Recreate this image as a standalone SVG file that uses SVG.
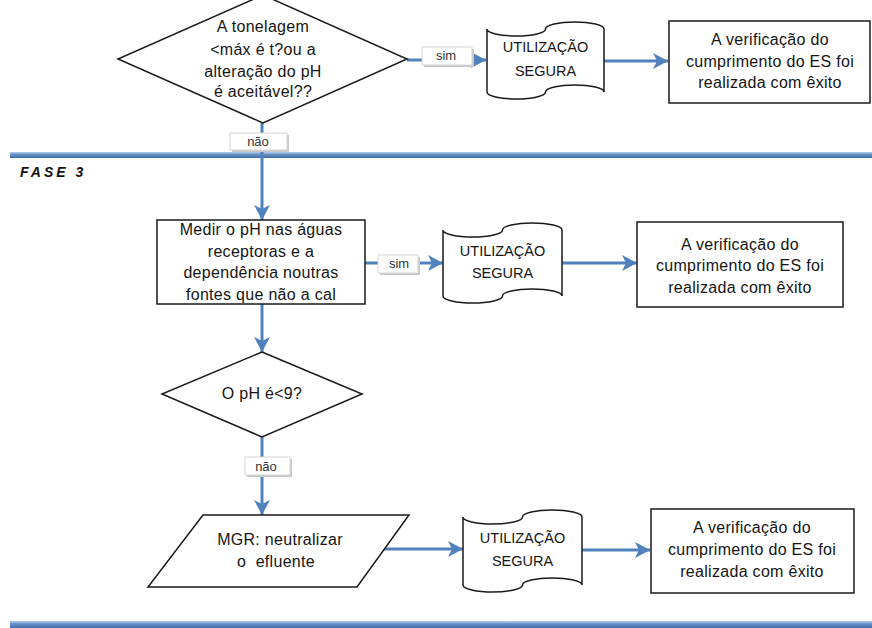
<svg xmlns="http://www.w3.org/2000/svg" width="872" height="628" viewBox="0 0 872 628">
  <defs>
    <linearGradient id="band" x1="0" y1="0" x2="0" y2="1">
      <stop offset="0" stop-color="#b9d0ec"/>
      <stop offset="0.35" stop-color="#6f97cc"/>
      <stop offset="1" stop-color="#3f6aa6"/>
    </linearGradient>
    <marker id="arrow" markerUnits="userSpaceOnUse" markerWidth="16" markerHeight="16" refX="15" refY="8" orient="auto">
      <path d="M0,0 L15,8 L0,16 L4,8 Z" fill="#4f81bd"/>
    </marker>
    <style>
      .shape { fill: #ffffff; stroke: #1a1a1a; stroke-width: 1.5; }
      .txt { font-family: "Liberation Sans", Arial, sans-serif; font-size: 16px; letter-spacing: 0.3px; fill: #151515; text-anchor: middle; }
      .cap { font-family: "Liberation Sans", Arial, sans-serif; font-size: 14.5px; fill: #151515; text-anchor: middle; }
      .lbl { font-family: "Liberation Sans", Arial, sans-serif; font-size: 13px; fill: #333; text-anchor: middle; }
      .lblbox { fill: #ffffff; stroke: #d6d6d6; stroke-width: 1; }
      .lblshadow { fill: #c8c8c8; }
      .conn { fill: none; stroke: #4f81bd; stroke-width: 3; }
      .phase { font-family: "Liberation Sans", Arial, sans-serif; font-size: 14px; font-weight: bold; font-style: italic; fill: #111; letter-spacing: 3px; }
    </style>
  </defs>

  <rect width="872" height="628" fill="#ffffff"/>

  <!-- phase separators -->
  <rect x="10" y="152" width="862" height="6" fill="url(#band)"/>
  <rect x="10" y="621" width="862" height="7" fill="url(#band)"/>
  <text class="phase" x="20" y="177">FASE 3</text>

  <!-- connectors -->
  <g id="connectors">
    <line class="conn" x1="407" y1="60" x2="422" y2="60"/>
    <line class="conn" x1="472" y1="60" x2="486" y2="60" marker-end="url(#arrow)"/>
    <line class="conn" x1="604" y1="61" x2="668" y2="61" marker-end="url(#arrow)"/>
    <line class="conn" x1="262" y1="123" x2="262" y2="133"/>
    <line class="conn" x1="262" y1="150" x2="262" y2="220" marker-end="url(#arrow)"/>
    <line class="conn" x1="365" y1="263" x2="378" y2="263"/>
    <line class="conn" x1="418" y1="263" x2="443" y2="263" marker-end="url(#arrow)"/>
    <line class="conn" x1="562" y1="263" x2="637" y2="263" marker-end="url(#arrow)"/>
    <line class="conn" x1="262" y1="304" x2="262" y2="352" marker-end="url(#arrow)"/>
    <line class="conn" x1="262" y1="437" x2="262" y2="457"/>
    <line class="conn" x1="262" y1="475" x2="262" y2="515" marker-end="url(#arrow)"/>
    <line class="conn" x1="383" y1="549" x2="463" y2="549" marker-end="url(#arrow)"/>
    <line class="conn" x1="582" y1="550" x2="650" y2="550" marker-end="url(#arrow)"/>
  </g>

  <!-- connector labels -->
  <g id="label-nao-1">
    <rect class="lblshadow" x="232" y="135" width="57" height="17"/>
    <rect class="lblbox" x="230" y="133" width="57" height="17"/>
    <text class="lbl" x="258" y="146">não</text>
  </g>
  <g id="label-sim-1">
    <rect class="lblshadow" x="424" y="49" width="50" height="18"/>
    <rect class="lblbox" x="422" y="47" width="50" height="18"/>
    <text class="lbl" x="446" y="60">sim</text>
  </g>
  <g id="label-sim-2">
    <rect class="lblshadow" x="380" y="257" width="40" height="18"/>
    <rect class="lblbox" x="378" y="255" width="40" height="18"/>
    <text class="lbl" x="399" y="268">sim</text>
  </g>
  <g id="label-nao-2">
    <rect class="lblshadow" x="247" y="459" width="45" height="18"/>
    <rect class="lblbox" x="245" y="457" width="45" height="18"/>
    <text class="lbl" x="266" y="471">não</text>
  </g>

  <!-- decision: tonnage / pH change -->
  <g id="decision-tonelagem">
    <polygon class="shape" points="263,-5 407,59 263,123 118,59"/>
    <text class="txt" x="263" y="32">A tonelagem</text>
    <text class="txt" x="263" y="55">&lt;máx é t?ou a</text>
    <text class="txt" x="263" y="77">alteração do pH</text>
    <text class="txt" x="263" y="97">é aceitável??</text>
  </g>

  <!-- safe use (punched tape) -->
  <g id="safe-use-1">
    <path class="shape" d="M487,29 A29.25 7 0 0 0 545.5,29 A29.25 7 0 0 1 604,29 L604,92 A29.25 7 0 0 0 545.5,92 A29.25 7 0 0 1 487,92 Z"/>
    <text class="cap" x="545.5" y="52">UTILIZAÇÃO</text>
    <text class="cap" x="545.5" y="76">SEGURA</text>
  </g>

  <g id="result-1">
    <rect class="shape" x="669" y="21" width="201" height="82"/>
    <text class="txt" x="770" y="45">A verificação do</text>
    <text class="txt" x="770" y="67">cumprimento do ES foi</text>
    <text class="txt" x="770" y="88">realizada com êxito</text>
  </g>

  <!-- measure pH -->
  <g id="measure-ph">
    <rect class="shape" x="157" y="220" width="208" height="84"/>
    <text class="txt" x="261" y="235">Medir o pH nas águas</text>
    <text class="txt" x="261" y="257">receptoras e a</text>
    <text class="txt" x="261" y="278">dependência noutras</text>
    <text class="txt" x="261" y="300">fontes que não a cal</text>
  </g>

  <g id="safe-use-2">
    <path class="shape" d="M443,230 A29.75 7 0 0 0 502.5,230 A29.75 7 0 0 1 562,230 L562,296 A29.75 7 0 0 0 502.5,296 A29.75 7 0 0 1 443,296 Z"/>
    <text class="cap" x="502.5" y="256">UTILIZAÇÃO</text>
    <text class="cap" x="502.5" y="278">SEGURA</text>
  </g>

  <g id="result-2">
    <rect class="shape" x="637" y="222" width="206" height="85"/>
    <text class="txt" x="740" y="250">A verificação do</text>
    <text class="txt" x="740" y="271">cumprimento do ES foi</text>
    <text class="txt" x="740" y="293">realizada com êxito</text>
  </g>

  <!-- decision: pH < 9 -->
  <g id="decision-ph">
    <polygon class="shape" points="262,352 362,394 262,437 162,394"/>
    <text class="txt" x="262" y="399">O pH é&lt;9?</text>
  </g>

  <!-- risk management measure -->
  <g id="mgr-neutralize">
    <polygon class="shape" points="203,515 409,515 357,587 148,587"/>
    <text class="txt" x="280" y="545">MGR: neutralizar</text>
    <text class="txt" x="276" y="567" xml:space="preserve">o  efluente</text>
  </g>

  <g id="safe-use-3">
    <path class="shape" d="M463,517 A29.75 7 0 0 0 522.5,517 A29.75 7 0 0 1 582,517 L582,585 A29.75 7 0 0 0 522.5,585 A29.75 7 0 0 1 463,585 Z"/>
    <text class="cap" x="522.5" y="543">UTILIZAÇÃO</text>
    <text class="cap" x="522.5" y="566">SEGURA</text>
  </g>

  <g id="result-3">
    <rect class="shape" x="651" y="509" width="203" height="84"/>
    <text class="txt" x="752" y="533">A verificação do</text>
    <text class="txt" x="752" y="555">cumprimento do ES foi</text>
    <text class="txt" x="752" y="577">realizada com êxito</text>
  </g>
</svg>
